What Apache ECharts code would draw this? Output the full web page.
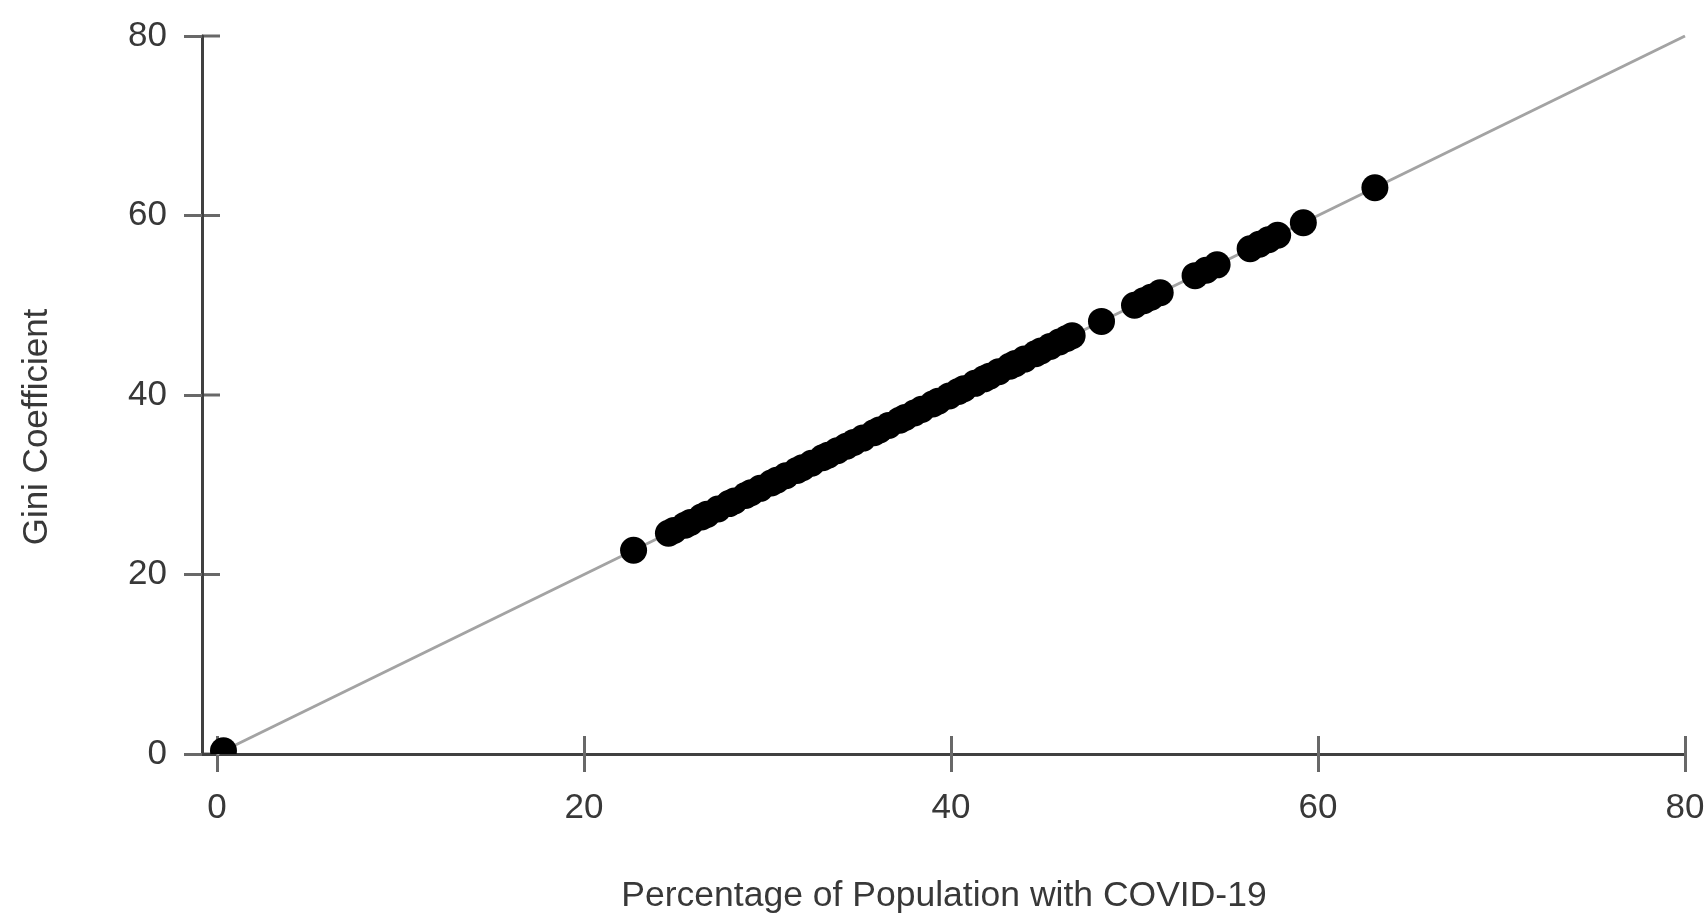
<!DOCTYPE html>
<html>
<head>
<meta charset="utf-8">
<style>
  html, body { margin: 0; padding: 0; background: #fff; }
  #chart { width: 1708px; height: 918px; }
</style>
<script src="https://cdn.jsdelivr.net/npm/echarts@6/dist/echarts.min.js"></script>
</head>
<body>
<div id="chart"></div>
<script>
// Percentage of population with COVID-19 (x) and Gini coefficient (y)
const covidPct = [0.35, 22.7,
  24.6, 24.9, 25.5, 25.8, 26.4, 26.7, 27.3, 27.9, 28.2, 28.8, 29.1, 29.6, 30.2, 30.5,
  31.0, 31.6, 31.9, 32.4, 33.0, 33.3, 33.8, 34.3, 34.7, 35.2, 35.8, 36.1, 36.6, 37.2,
  37.5, 38.0, 38.4, 39.0, 39.3, 39.9, 40.4, 40.7, 41.3, 41.8, 42.1, 42.6, 43.2, 43.5,
  44.0, 44.6, 44.9, 45.4, 45.9, 46.3, 46.6,
  48.2, 50.0, 50.5, 50.9, 51.4, 53.3, 53.9, 54.5, 56.3, 56.8, 57.3, 57.8, 59.2, 63.1];
const giniCoef = [0.35, 22.7,
  24.6, 24.9, 25.5, 25.8, 26.4, 26.7, 27.3, 27.9, 28.2, 28.8, 29.1, 29.6, 30.2, 30.5,
  31.0, 31.6, 31.9, 32.4, 33.0, 33.3, 33.8, 34.3, 34.7, 35.2, 35.8, 36.1, 36.6, 37.2,
  37.5, 38.0, 38.4, 39.0, 39.3, 39.9, 40.4, 40.7, 41.3, 41.8, 42.1, 42.6, 43.2, 43.5,
  44.0, 44.6, 44.9, 45.4, 45.9, 46.3, 46.6,
  48.2, 50.0, 50.5, 50.9, 51.4, 53.3, 53.9, 54.5, 56.3, 56.8, 57.3, 57.8, 59.2, 63.1];
// Reference line y = x
const refLineX = [0, 80];
const refLineY = [0, 80];
// Tick labels
const xTicks = [0, 20, 40, 60, 80];
const yTicks = [0, 20, 40, 60, 80];
const xTitle = 'Percentage of Population with COVID-19';
const yTitle = 'Gini Coefficient';

const FONT = '"Liberation Sans", Arial, sans-serif';
const TXT = '#383838';
const AXIS = '#404040';
const TICK = '#686868';
const DOT_R = 13.5;
const TICK_LEN = 18;

const scatterData = covidPct.map((x, i) => [x, giniCoef[i]]);
const lineData = refLineX.map((x, i) => [x, refLineY[i]]);

const chart = echarts.init(document.getElementById('chart'), null, { renderer: 'canvas' });

const gridMain = { left: 202, right: 23, top: 36, bottom: 164, containLabel: false };
const xBase = { type: 'value', min: -0.82, max: 80, splitLine: { show: false } };
const yBase = { type: 'value', min: 0, max: 80, interval: 20, splitLine: { show: false } };

chart.setOption({
  animation: false,
  backgroundColor: '#fff',
  grid: [gridMain, Object.assign({}, gridMain)],
  xAxis: [
    Object.assign({}, xBase, {
      gridIndex: 0, position: 'bottom',
      axisLine: { show: true, onZero: false, lineStyle: { color: AXIS, width: 3 } },
      axisTick: { show: true, inside: false, length: TICK_LEN, customValues: xTicks, lineStyle: { color: TICK, width: 3 } },
      axisLabel: { show: true, customValues: xTicks, margin: 37, fontSize: 35, fontFamily: FONT, color: TXT }
    }),
    Object.assign({}, xBase, {
      gridIndex: 1, position: 'bottom',
      axisLine: { show: false, onZero: false },
      axisTick: { show: true, inside: true, length: TICK_LEN, customValues: xTicks, lineStyle: { color: TICK, width: 3 } },
      axisLabel: { show: false }
    })
  ],
  yAxis: [
    Object.assign({}, yBase, {
      gridIndex: 0, position: 'left',
      axisLine: { show: true, onZero: false, lineStyle: { color: AXIS, width: 3 } },
      axisTick: { show: true, inside: false, length: TICK_LEN, customValues: yTicks, lineStyle: { color: TICK, width: 3 } },
      axisLabel: { show: true, customValues: yTicks, margin: 35, fontSize: 35, fontFamily: FONT, color: TXT }
    }),
    Object.assign({}, yBase, {
      gridIndex: 1, position: 'left',
      axisLine: { show: false, onZero: false }, axisTick: { show: false }, axisLabel: { show: false }
    })
  ],
  series: [
    {
      // inner half of the y-axis ticks (ticks cross the axis line)
      type: 'custom', xAxisIndex: 0, yAxisIndex: 0, clip: false, z: 0, silent: true,
      data: yTicks.map(v => [0, v]),
      encode: { x: 0, y: 1 },
      renderItem: function (params, api) {
        const cs = params.coordSys;
        const y = api.coord([0, api.value(1)])[1];
        return {
          type: 'line',
          shape: { x1: cs.x, y1: y, x2: cs.x + TICK_LEN, y2: y },
          style: { stroke: TICK, lineWidth: 3 }
        };
      }
    },
    {
      type: 'line', xAxisIndex: 0, yAxisIndex: 0,
      data: lineData, showSymbol: false, symbol: 'none',
      lineStyle: { color: '#a3a3a3', width: 3 }, z: 1, silent: true
    },
    {
      type: 'custom', xAxisIndex: 0, yAxisIndex: 0, clip: true, z: 3,
      data: scatterData,
      encode: { x: 0, y: 1 },
      renderItem: function (params, api) {
        const p = api.coord([api.value(0), api.value(1)]);
        return { type: 'circle', shape: { cx: p[0], cy: p[1], r: DOT_R }, style: { fill: '#000' } };
      }
    }
  ],
  graphic: [
    {
      type: 'text', x: 944, y: 896,
      style: { text: xTitle, font: '35.5px ' + FONT, fill: TXT, align: 'center', verticalAlign: 'middle' }
    },
    {
      type: 'text', x: 37, y: 427, rotation: Math.PI / 2,
      style: { text: yTitle, font: '35px ' + FONT, fill: TXT, align: 'center', verticalAlign: 'middle' }
    }
  ]
});
</script>
</body>
</html>
